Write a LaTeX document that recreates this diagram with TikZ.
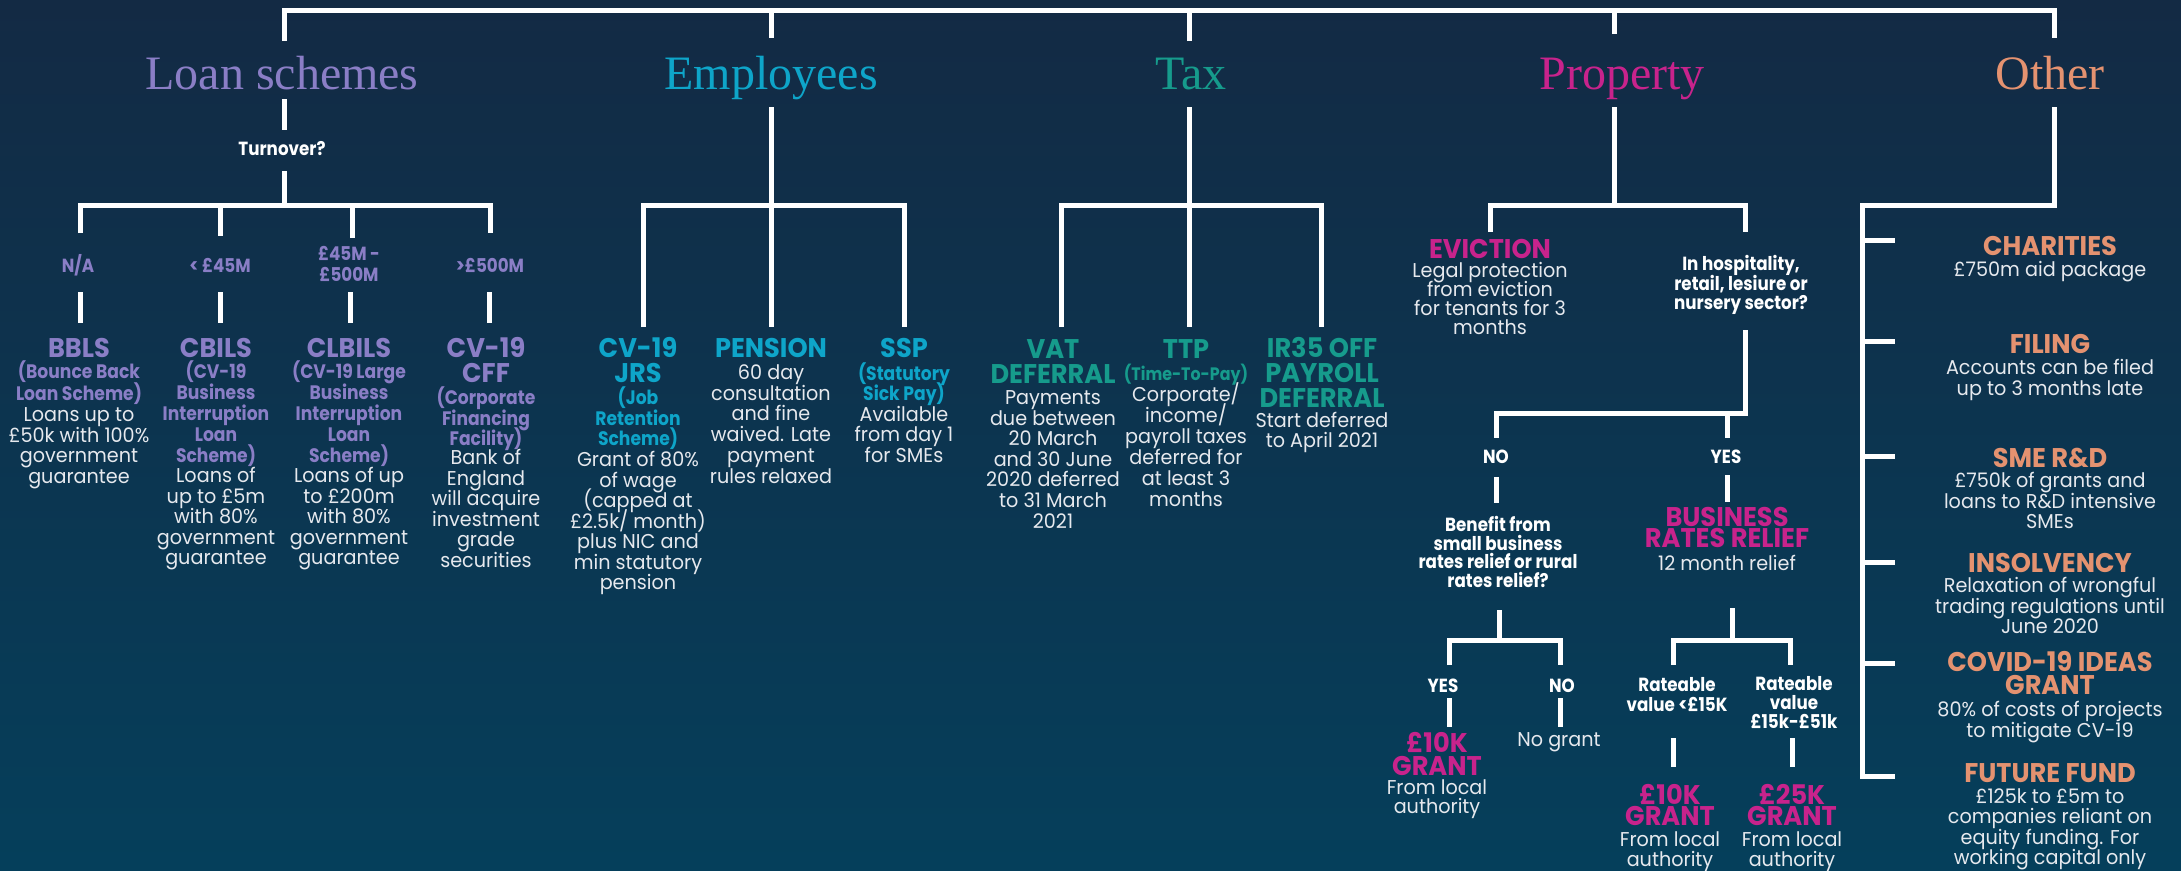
\documentclass[tikz,border=0pt]{standalone}
\usepackage{fontspec}
\newfontfamily\hdf{Liberation Serif}
\newfontfamily\popt{Poppins}[FakeStretch=0.95]
\newfontfamily\popb{Poppins}[FakeStretch=0.96]
\newfontfamily\popc{Poppins}[FakeStretch=0.88]
\lineskiplimit=-100pt
\definecolor{bgtop}{RGB}{19,42,68}
\definecolor{bgbot}{RGB}{5,63,91}
\definecolor{loanc}{RGB}{138,126,198}
\definecolor{empc}{RGB}{14,165,201}
\definecolor{taxc}{RGB}{22,155,140}
\definecolor{propc}{RGB}{200,35,140}
\definecolor{othc}{RGB}{228,146,112}
\definecolor{txtc}{RGB}{230,233,238}
\tikzset{
  bar/.style={draw=white, line width=5pt, line join=miter},
  head/.style={font=\hdf\fontsize{48}{52}\selectfont, inner sep=0pt, anchor=base},
  ttl/.style={font=\popt\bfseries\fontsize{27}{#1}\selectfont, align=center, inner sep=0pt, anchor=base},
  ttl/.default=24.5,
  sub/.style={font=\popc\bfseries\fontsize{19.5}{#1}\selectfont, align=center, inner sep=0pt, anchor=base},
  sub/.default=21,
  body/.style={font=\popb\fontsize{20}{#1}\selectfont, text=txtc, align=center, inner sep=0pt, anchor=base},
  body/.default=20.5,
  cond/.style={font=\popc\bfseries\fontsize{19}{#1}\selectfont, text=white, align=center, inner sep=0pt, anchor=base},
  cond/.default=19.5,
}
\begin{document}
\begin{tikzpicture}[x=1pt,y=-1pt]
\begin{scope}[y=1pt]
\shade[top color=bgtop, bottom color=bgbot] (0,0) rectangle (2181,-870);
\end{scope}
\useasboundingbox (0,0) rectangle (2181,870);

% ---------- headings and top bar
\node[head, text=loanc] (hL) at (282,89) {Loan schemes};
\node[head, text=empc] (hE) at (771,89) {Employees};
\node[head, text=taxc] (hT) at (1191,89) {Tax};
\node[head, text=propc] (hP) at (1622,89) {Property};
\node[head, text=othc] (hO) at (2050,89) {Other};

\coordinate (root) at (1169,10);
\coordinate (aL) at (284,41);
\coordinate (aE) at (771,38);
\coordinate (aT) at (1189,41);
\coordinate (aP) at (1614,34);
\coordinate (aO) at (2054,38);
\draw[bar] (aL) -- (aL |- root) -- (aO |- root) -- (aO);
\draw[bar] (aE) -- (aE |- root);
\draw[bar] (aT) -- (aT |- root);
\draw[bar] (aP) -- (aP |- root);

% ---------- Loan schemes
\coordinate (bL1) at (284,99);
\coordinate (bL2) at (284,130);
\coordinate (bL3) at (284,171);
\coordinate (jL) at (284,205);
\node[cond] (turn) at (282,155) {Turnover?};
\draw[bar] (bL1) -- (bL2);
\draw[bar] (bL3) -- (jL);
\coordinate (dL1) at (80,233);
\coordinate (dL2) at (220,236);
\coordinate (dL3) at (352,238);
\coordinate (dL4) at (490,233);
\draw[bar] (dL1) -- (dL1 |- jL) -- (dL4 |- jL) -- (dL4);
\draw[bar] (dL2 |- jL) -- (dL2);
\draw[bar] (dL3 |- jL) -- (dL3);

\node[cond, text=loanc] (kNA) at (78,272) {N/A};
\node[cond, text=loanc] (k45) at (220,272) {< £45M};
\node[cond=21.5, text=loanc] (kMid) at (349,281.5) {£45M -\\£500M};
\node[cond, text=loanc] (kBig) at (490,272) {>£500M};

\coordinate (eL1) at (80,292);  \coordinate (fL1) at (80,323);
\coordinate (eL2) at (220,292); \coordinate (fL2) at (220,323);
\coordinate (eL3) at (350,292); \coordinate (fL3) at (350,323);
\coordinate (eL4) at (489,292); \coordinate (fL4) at (489,323);
\draw[bar] (eL1) -- (fL1);
\draw[bar] (eL2) -- (fL2);
\draw[bar] (eL3) -- (fL3);
\draw[bar] (eL4) -- (fL4);

\node[ttl, text=loanc] (tBB) at (79,357.5) {BBLS};
\node[sub=22, text=loanc] (sBB) at (79,400.5) {(Bounce Back\\Loan Scheme)};
\node[body] (xBB) at (79,483) {Loans up to\\£50k with 100\%\\government\\guarantee};

\node[ttl, text=loanc] (tCB) at (216,357.5) {CBILS};
\node[sub, text=loanc] (sCB) at (216,462.5) {(CV-19\\Business\\Interruption\\Loan\\Scheme)};
\node[body] (xCB) at (216,564.5) {Loans of\\up to £5m\\with 80\%\\government\\guarantee};

\node[ttl, text=loanc] (tCL) at (349,357.5) {CLBILS};
\node[sub, text=loanc] (sCL) at (349,462.5) {(CV-19 Large\\Business\\Interruption\\Loan\\Scheme)};
\node[body] (xCL) at (349,564.5) {Loans of up\\to £200m\\with 80\%\\government\\guarantee};

\node[ttl, text=loanc] (tCF) at (486,382) {CV-19\\CFF};
\node[sub=20.5, text=loanc] (sCF) at (486,445.5) {(Corporate\\Financing\\Facility)};
\node[body] (xCF) at (486,567) {Bank of\\England\\will acquire\\investment\\grade\\securities};

% ---------- Employees
\coordinate (bE) at (771,107);
\coordinate (jE) at (771,205);
\coordinate (dE1) at (643,327);
\coordinate (dE2) at (771,327);
\coordinate (dE3) at (904,327);
\draw[bar] (bE) -- (dE2);
\draw[bar] (dE1) -- (dE1 |- jE) -- (dE3 |- jE) -- (dE3);

\node[ttl, text=empc] (tJR) at (638,382) {CV-19\\JRS};
\node[sub=20.5, text=empc] (sJR) at (638,445.5) {(Job\\Retention\\Scheme)};
\node[body] (xJR) at (638,589.5) {Grant of 80\%\\of wage\\(capped at\\£2.5k/ month)\\plus NIC and\\min statutory\\pension};

\node[ttl, text=empc] (tPE) at (771,357.5) {PENSION};
\node[body=20.7] (xPE) at (771,483) {60 day\\consultation\\and fine\\waived. Late\\payment\\rules relaxed};

\node[ttl, text=empc] (tSS) at (904,357.5) {SSP};
\node[sub=20, text=empc] (sSS) at (904,400) {(Statutory\\Sick Pay)};
\node[body] (xSS) at (904,462) {Available\\from day 1\\for SMEs};

% ---------- Tax
\coordinate (bT) at (1189,107);
\coordinate (jT) at (1189,205);
\coordinate (dT1) at (1061,327);
\coordinate (dT2) at (1189,327);
\coordinate (dT3) at (1321,327);
\draw[bar] (bT) -- (dT2);
\draw[bar] (dT1) -- (dT1 |- jT) -- (dT3 |- jT) -- (dT3);

\node[ttl, text=taxc] (tVA) at (1053,383) {VAT\\DEFERRAL};
\node[body=20.6] (xVA) at (1053,528) {Payments\\due between\\20 March\\and 30 June\\2020 deferred\\to 31 March\\2021};

\node[ttl, text=taxc] (tTP) at (1186,358.5) {TTP};
\node[sub, text=taxc, font=\popc\bfseries\fontsize{18}{20}\selectfont] (sTP) at (1186,380.5) {(Time-To-Pay)};
\node[body=21] (xTP) at (1186,506.5) {Corporate/\\income/\\payroll taxes\\deferred for\\at least 3\\months};

\node[ttl=25, text=taxc] (tIR) at (1322,407) {IR35 OFF\\PAYROLL\\DEFERRAL};
\node[body=20] (xIR) at (1322,447.5) {Start deferred\\to April 2021};

% ---------- Property
\coordinate (bP) at (1614,107);
\coordinate (jP) at (1614,205);
\coordinate (dP1) at (1490,232);
\coordinate (dP2) at (1745,232);
\draw[bar] (bP) -- (jP);
\draw[bar] (dP1) -- (dP1 |- jP) -- (dP2 |- jP) -- (dP2);

\node[ttl, text=propc] (tEV) at (1490,258) {EVICTION};
\node[body=19] (xEV) at (1490,334.5) {Legal protection\\from eviction\\for tenants for 3\\months};

\node[cond] (qHo) at (1741,309.5) {In hospitality,\\retail, lesiure or\\nursery sector?};
\coordinate (pA) at (1745,330);
\coordinate (pJ) at (1745,413);
\coordinate (pN) at (1496,438);
\coordinate (pY) at (1727,438);
\draw[bar] (pA) -- (pJ) -- (pJ -| pN) -- (pN);
\draw[bar] (pY |- pJ) -- (pY);

\node[cond] (aNO) at (1496,463) {NO};
\node[cond] (aYES) at (1726,463) {YES};
\coordinate (gN1) at (1496,477); \coordinate (gN2) at (1496,503);
\coordinate (gY1) at (1727,475); \coordinate (gY2) at (1727,502);
\draw[bar] (gN1) -- (gN2);
\draw[bar] (gY1) -- (gY2);

\node[cond=18.5] (qBe) at (1498,587) {Benefit from\\small business\\rates relief or rural\\rates relief?};
\node[ttl=21, text=propc] (tBR) at (1727,547) {BUSINESS\\RATES RELIEF};
\node[body] (xBR) at (1727,570) {12 month relief};

\coordinate (hB1) at (1499,610);
\coordinate (hB2) at (1499,640);
\coordinate (hBY) at (1449,665);
\coordinate (hBN) at (1560,665);
\draw[bar] (hB1) -- (hB2);
\draw[bar] (hBY) -- (hBY |- hB2) -- (hBN |- hB2) -- (hBN);

\coordinate (hR1) at (1732,608);
\coordinate (hR2) at (1732,640);
\coordinate (hRL) at (1673,665);
\coordinate (hRR) at (1790,665);
\draw[bar] (hR1) -- (hR2);
\draw[bar] (hRL) -- (hRL |- hR2) -- (hRR |- hR2) -- (hRR);

\node[cond] (bYES) at (1443,692) {YES};
\node[cond] (bNO) at (1562,692) {NO};
\node[cond=20] (rLo) at (1677,711.5) {Rateable\\value <£15K};
\node[cond=19] (rHi) at (1794,728.5) {Rateable\\value\\£15k-£51k};

\coordinate (iY1) at (1449,698); \coordinate (iY2) at (1449,727);
\coordinate (iN1) at (1560,698); \coordinate (iN2) at (1560,727);
\coordinate (iL1) at (1673,738); \coordinate (iL2) at (1673,767);
\coordinate (iH1) at (1792,738); \coordinate (iH2) at (1792,767);
\draw[bar] (iY1) -- (iY2);
\draw[bar] (iN1) -- (iN2);
\draw[bar] (iL1) -- (iL2);
\draw[bar] (iH1) -- (iH2);

\node[ttl=23.5, text=propc] (tG1) at (1437,775.5) {£10K\\GRANT};
\node[body=18.5] (xG1) at (1437,813) {From local\\authority};
\node[body] (xNG) at (1559,746.5) {No grant};
\node[ttl=21, text=propc] (tG2) at (1670,825) {£10K\\GRANT};
\node[body=20] (xG2) at (1670,866.5) {From local\\authority};
\node[ttl=21, text=propc] (tG3) at (1792,825) {£25K\\GRANT};
\node[body=20] (xG3) at (1792,866.5) {From local\\authority};

% ---------- Other
\coordinate (oA) at (2054,107);
\coordinate (oJ) at (2054,205);
\coordinate (oS) at (1862,205);
\coordinate (oE) at (1862,776);
\coordinate (oT6) at (1895,776);
\draw[bar] (oA) -- (oJ) -- (oS) -- (oE) -- (oT6);
\foreach \yy/\nm in {240/oT1, 341/oT2, 456/oT3, 562/oT4, 663/oT5}{
  \coordinate (\nm) at (1895,\yy);
  \draw[bar] (oS |- \nm) -- (\nm);
}

\node[ttl, text=othc] (tCH) at (2050,255) {CHARITIES};
\node[body] (xCH) at (2050,276.5) {£750m aid package};
\node[ttl, text=othc] (tFI) at (2050,353.5) {FILING};
\node[body=21] (xFI) at (2050,395.5) {Accounts can be filed\\up to 3 months late};
\node[ttl, text=othc] (tSM) at (2050,467) {SME R\&D};
\node[body] (xSM) at (2050,528.5) {£750k of grants and\\loans to R\&D intensive\\SMEs};
\node[ttl, text=othc] (tIN) at (2050,572) {INSOLVENCY};
\node[body] (xIN) at (2050,633.5) {Relaxation of wrongful\\trading regulations until\\June 2020};
\node[ttl=23, text=othc] (tCO) at (2050,694) {COVID-19 IDEAS\\GRANT};
\node[body] (xCO) at (2050,737) {80\% of costs of projects\\to mitigate CV-19};
\node[ttl, text=othc] (tFU) at (2050,782) {FUTURE FUND};
\node[body=20.3] (xFU) at (2050,864.4) {£125k to £5m to\\companies reliant on\\equity funding. For\\working capital only};
\end{tikzpicture}
\end{document}
